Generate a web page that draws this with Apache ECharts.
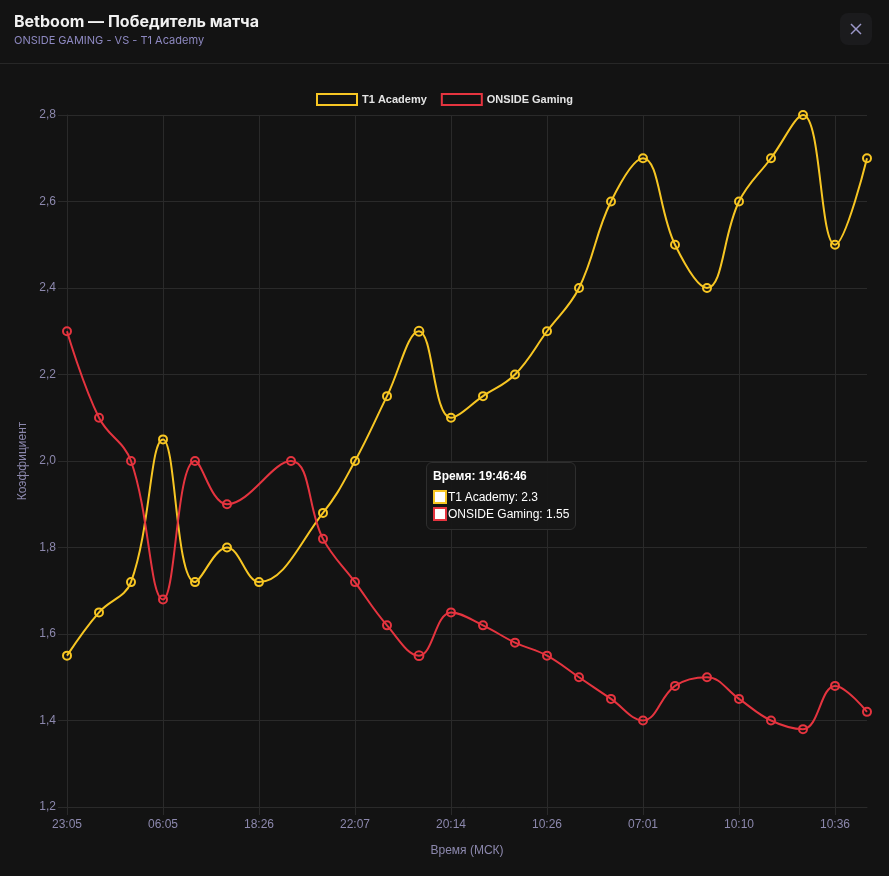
<!DOCTYPE html>
<html>
<head>
<meta charset="utf-8">
<script src="https://cdn.jsdelivr.net/npm/echarts@6/dist/echarts.min.js"></script>
<style>
html,body{margin:0;padding:0;background:#131313;}
#c{width:889px;height:876px;}
</style>
</head>
<body>
<div id="c"></div>
<script>
var titleText = 'Betboom — Победитель матча';
var subtitleText = 'ONSIDE GAMING - VS - T1 Academy';
var times = ['23:05:14','02:41:08','04:22:37','06:05:51','09:12:03','14:47:29','18:26:10','20:58:44','21:33:19','22:07:42','23:15:06','19:46:46','20:14:33','01:52:17','07:38:55','10:26:21','14:09:48','03:27:12','07:01:39','08:44:05','09:35:27','10:10:58','10:19:16','10:28:40','10:36:02','10:44:31'];
var t1Academy = [1.55,1.65,1.72,2.05,1.72,1.80,1.72,null,1.88,2.00,2.15,2.30,2.10,2.15,2.20,2.30,2.40,2.60,2.70,2.50,2.40,2.60,2.70,2.80,2.50,2.70];
var onsideGaming = [2.30,2.10,2.00,1.68,2.00,1.90,null,2.00,1.82,1.72,1.62,1.55,1.65,1.62,1.58,1.55,1.50,1.45,1.40,1.48,1.50,1.45,1.40,1.38,1.48,1.42];
var yTicks = {min:1.2, max:2.8, interval:0.2};

var YEL = '#f7c623', RED = '#e5343f';
var gridCol = '#2a2a2a', labelCol = '#8c88ad';

var chart = echarts.init(document.getElementById('c'));
function mkSeries(name, data, col){
  return {
    name: name, type: 'line', data: data, smooth: 0.4, connectNulls: true,
    symbol: 'circle', symbolSize: 8,
    lineStyle: {color: col, width: 2},
    itemStyle: {color: 'rgba(0,0,0,0)', borderColor: col, borderWidth: 2},
    emphasis: {disabled: true}
  };
}
function sq(col){
  return '<span style="display:inline-block;width:10px;height:10px;background:#fff;border:2px solid '+col+';vertical-align:-3px;margin-right:1px;"></span>';
}
chart.setOption({
  backgroundColor: '#131313',
  animation: false,
  textStyle: {fontFamily: 'Liberation Sans, Arial, sans-serif'},
  graphic: [
    {type:'text', left:14, top:14, style:{text:titleText, fill:'#f2f2f2', font:'bold 16px Inter, "Liberation Sans", sans-serif'}},
    {type:'text', left:14, top:35, style:{text:subtitleText, fill:'#8d88c0', font:'11px Inter, "Liberation Sans", sans-serif'}},
    {type:'rect', shape:{x:0, y:63, width:889, height:1}, style:{fill:'#272727'}},
    {type:'rect', shape:{x:840, y:13, width:32, height:32, r:8}, style:{fill:'#1b1b1d'}},
    {type:'line', shape:{x1:851, y1:24, x2:861, y2:34}, style:{stroke:'#9c98c9', lineWidth:1.5}},
    {type:'line', shape:{x1:861, y1:24, x2:851, y2:34}, style:{stroke:'#9c98c9', lineWidth:1.5}}
  ],
  legend: {
    top: 88, left: 'center',
    itemWidth: 40, itemHeight: 11, itemGap: 14,
    icon: 'rect',
    textStyle: {color: '#e4e4e4', fontSize: 11, fontWeight: 'bold'},
    data: [
      {name:'T1 Academy', itemStyle:{color:'#131313', borderColor:YEL, borderWidth:2}},
      {name:'ONSIDE Gaming', itemStyle:{color:'#131313', borderColor:RED, borderWidth:2}}
    ]
  },
  grid: {left: 67, right: 22, top: 115, bottom: 69, containLabel: false},
  tooltip: {
    trigger: 'axis',
    alwaysShowContent: true,
    axisPointer: {type: 'none'},
    backgroundColor: 'rgba(22,22,22,0.95)',
    borderColor: '#2e2e2e', borderWidth: 1,
    padding: [6, 6],
    extraCssText: 'border-radius:6px;box-shadow:none;',
    textStyle: {color:'#fff', fontSize:12},
    position: function(){ return [426, 462]; },
    formatter: function(params){
      var s = '<div style="font-weight:bold;line-height:14px;margin-bottom:6px;">Время: '+params[0].name+'</div>';
      var cols = [YEL, RED];
      params.forEach(function(p){
        s += '<div style="line-height:17px;">'+sq(cols[p.seriesIndex])+p.seriesName+': '+p.value+'</div>';
      });
      return s;
    }
  },
  xAxis: {
    type: 'category', data: times, boundaryGap: false,
    name: 'Время (МСК)', nameLocation: 'middle', nameGap: 38,
    nameTextStyle: {color: labelCol, fontSize: 12},
    axisLine: {show: true, lineStyle: {color: gridCol}},
    axisTick: {show: true, interval: 2, length: 8, lineStyle: {color: gridCol}},
    axisLabel: {interval: 2, color: labelCol, fontSize: 12, margin: 12, formatter: function(v){ return v.slice(0,5); }},
    splitLine: {show: true, interval: 2, lineStyle: {color: gridCol}}
  },
  yAxis: {
    type: 'value', min: yTicks.min, max: yTicks.max, interval: yTicks.interval,
    name: 'Коэффициент', nameLocation: 'middle', nameGap: 36,
    nameTextStyle: {color: labelCol, fontSize: 12},
    axisLine: {show: true, lineStyle: {color: gridCol}},
    axisTick: {show: true, length: 9, lineStyle: {color: gridCol}},
    axisLabel: {color: labelCol, fontSize: 12, margin: 11, formatter: function(v){ return v.toFixed(1).replace('.', ','); }},
    splitLine: {show: true, lineStyle: {color: gridCol}}
  },
  series: [mkSeries('T1 Academy', t1Academy, YEL), mkSeries('ONSIDE Gaming', onsideGaming, RED)]
});
chart.dispatchAction({type: 'showTip', seriesIndex: 0, dataIndex: 11});
</script>
</body>
</html>
